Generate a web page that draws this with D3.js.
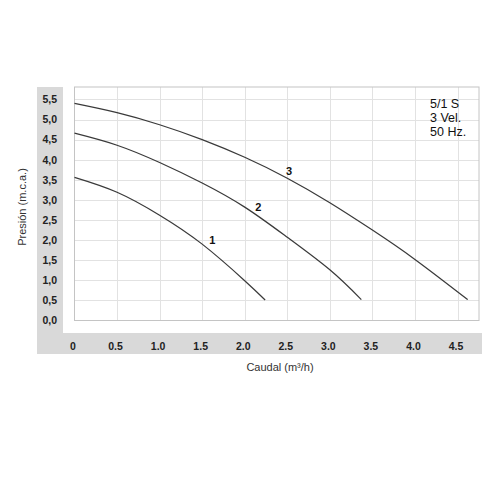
<!DOCTYPE html>
<html>
<head>
<meta charset="utf-8">
<script src="https://cdn.jsdelivr.net/npm/d3@7"></script>
<style>
  html, body { margin: 0; padding: 0; background: #fff; }
  svg { display: block; font-family: "Liberation Sans", Arial, Helvetica, sans-serif; }
</style>
</head>
<body>
<svg id="chart" width="500" height="500"></svg>
<script>
// ---- data ----
const yTicks = [0, 0.5, 1.0, 1.5, 2.0, 2.5, 3.0, 3.5, 4.0, 4.5, 5.0, 5.5];
const yTickLabels = ["0,0","0,5","1,0","1,5","2,0","2,5","3,0","3,5","4,0","4,5","5,0","5,5"];
const xTicks = [0, 0.5, 1.0, 1.5, 2.0, 2.5, 3.0, 3.5, 4.0, 4.5];
const xTickLabels = ["0","0.5","1.0","1.5","2.0","2.5","3.0","3.5","4.0","4.5"];

const speed1Q = [0, 0.5, 1.0, 1.5, 2.0, 2.24];
const speed1H = [3.56, 3.19, 2.62, 1.90, 0.99, 0.51];
const speed2Q = [0, 0.5, 1.0, 1.5, 2.0, 2.5, 3.0, 3.37];
const speed2H = [4.66, 4.36, 3.93, 3.42, 2.82, 2.07, 1.26, 0.52];
const speed3Q = [0, 0.5, 1.0, 1.5, 2.0, 2.5, 3.0, 3.5, 4.0, 4.62];
const speed3H = [5.40, 5.17, 4.87, 4.50, 4.06, 3.54, 2.93, 2.25, 1.52, 0.52];

const curveNames = ["1", "2", "3"];
const labelPos = [[1.62, 1.90], [2.16, 2.72], [2.52, 3.62]]; // [Q, H] for curve labels
const infoLines = ["5/1 S", "3 Vel.", "50 Hz."];
const xTitle = "Caudal (m³/h)";
const yTitle = "Presión (m.c.a.)";

// ---- layout ----
const svg = d3.select("#chart");
const plot = { left: 74.5, right: 479, top: 87, bottom: 320.5 };
const x = d3.scaleLinear().domain([0, 4.5]).range([74.5, 457.5]);
const y = d3.scaleLinear().domain([0, 5.5]).range([320.5, 99.4]);

const gray = "#d9d9d9";
// gray bands
svg.append("rect").attr("x", 37).attr("y", 87).attr("width", 26).attr("height", 267).attr("fill", gray);
svg.append("rect").attr("x", 37).attr("y", 333).attr("width", 445).attr("height", 21).attr("fill", gray);

// grid
const gridColor = "#e2e2e2";
svg.append("g").selectAll("line.h").data(yTicks.slice(1)).join("line")
  .attr("x1", plot.left).attr("x2", plot.right)
  .attr("y1", d => Math.round(y(d)) + 0.5).attr("y2", d => Math.round(y(d)) + 0.5)
  .attr("stroke", gridColor).attr("stroke-width", 1);
svg.append("g").selectAll("line.v").data(xTicks.slice(1)).join("line")
  .attr("x1", d => Math.round(x(d)) + 0.5).attr("x2", d => Math.round(x(d)) + 0.5)
  .attr("y1", plot.top).attr("y2", plot.bottom)
  .attr("stroke", gridColor).attr("stroke-width", 1);
// box
svg.append("rect").attr("x", plot.left).attr("y", plot.top)
  .attr("width", plot.right - plot.left).attr("height", plot.bottom - plot.top)
  .attr("fill", "none").attr("stroke", "#c4c4c4").attr("stroke-width", 1);

// y tick labels (via axis)
const yAxis = d3.axisLeft(y).tickValues(yTicks).tickFormat((d, i) => yTickLabels[i]).tickSize(0).tickPadding(0);
const gy = svg.append("g").attr("transform", "translate(57,0)").call(yAxis);
gy.select(".domain").remove();
gy.selectAll("text").attr("font-size", 10.5).attr("font-weight", "bold").attr("fill", "#222")
  .attr("font-family", "'Liberation Sans', Arial, sans-serif");

// x tick labels (via axis)
const xAxis = d3.axisBottom(x).tickValues(xTicks).tickFormat((d, i) => xTickLabels[i]).tickSize(0).tickPadding(0);
const gx = svg.append("g").attr("transform", "translate(-2,343)").call(xAxis);
gx.select(".domain").remove();
gx.selectAll("text").attr("font-size", 10.5).attr("font-weight", "bold").attr("fill", "#222")
  .attr("font-family", "'Liberation Sans', Arial, sans-serif");

// curves
const line = d3.line().x(d => x(d[0])).y(d => y(d[1])).curve(d3.curveNatural);
const series = [
  d3.zip(speed1Q, speed1H),
  d3.zip(speed2Q, speed2H),
  d3.zip(speed3Q, speed3H)
];
svg.append("g").selectAll("path").data(series).join("path")
  .attr("d", line).attr("fill", "none").attr("stroke", "#3a3a3a").attr("stroke-width", 1.25);

// curve labels
svg.append("g").selectAll("text").data(curveNames).join("text")
  .attr("x", (d, i) => x(labelPos[i][0])).attr("y", (d, i) => y(labelPos[i][1]))
  .attr("text-anchor", "middle").attr("font-size", 11).attr("font-weight", "bold").attr("fill", "#111")
  .text(d => d);

// info text
svg.append("g").selectAll("text").data(infoLines).join("text")
  .attr("x", 430).attr("y", (d, i) => 108 + i * 14)
  .attr("font-size", 12.5).attr("fill", "#111")
  .text(d => d);

// axis titles
svg.append("text").attr("x", 280).attr("y", 371).attr("text-anchor", "middle")
  .attr("font-size", 11).attr("fill", "#333").text(xTitle);
svg.append("text").attr("transform", "translate(26,207) rotate(-90)").attr("text-anchor", "middle")
  .attr("font-size", 11).attr("fill", "#333").text(yTitle);
</script>
</body>
</html>
